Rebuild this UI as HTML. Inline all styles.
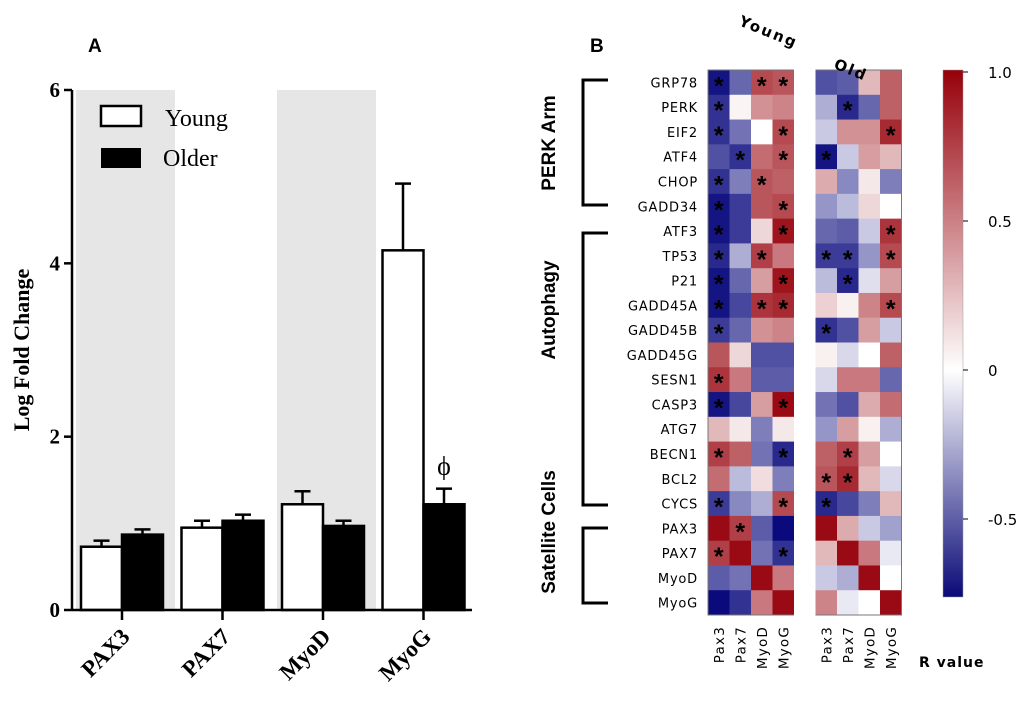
<!DOCTYPE html>
<html><head><meta charset="utf-8"><style>
body{margin:0;background:#fff;width:1020px;height:701px;overflow:hidden}
svg{display:block}
</style></head><body>
<svg id="s" width="1020" height="701">
<defs>
<linearGradient id="cb" x1="0" y1="0" x2="0" y2="1">
<stop offset="0" stop-color="rgb(150,0,10)"/>
<stop offset="0.57" stop-color="#fff"/>
<stop offset="1" stop-color="rgb(10,10,120)"/>
</linearGradient>
</defs>
<text x="88" y="52" font-family="Liberation Sans" font-weight="bold" font-size="19">A</text>
<text x="590" y="52" font-family="Liberation Sans" font-weight="bold" font-size="19">B</text>
<g id="barg"></g>
<g id="heat"></g>
</svg>
<script>
// ---- Bar chart data ----
const genes = ["PAX3","PAX7","MyoD","MyoG"];
const youngVals = [0.73,0.95,1.22,4.15];
const olderVals = [0.87,1.03,0.97,1.22];
const youngErr = [0.07,0.08,0.15,0.77];
const olderErr = [0.06,0.07,0.06,0.18];
const yTicks = [0,2,4,6];

// ---- Heatmap data ----
const rowLabels = ["GRP78","PERK","EIF2","ATF4","CHOP","GADD34","ATF3","TP53","P21","GADD45A","GADD45B","GADD45G","SESN1","CASP3","ATG7","BECN1","BCL2","CYCS","PAX3","PAX7","MyoD","MyoG"];
const colLabels = ["Pax3","Pax7","MyoD","MyoG","Pax3","Pax7","MyoD","MyoG"];
const rValues = [
[-0.95,-0.55,0.65,0.6,-0.65,-0.6,0.2,0.55],
[-0.8,0.02,0.35,0.4,-0.25,-0.85,-0.55,0.55],
[-0.8,-0.5,0,0.65,-0.15,0.35,0.35,0.8],
[-0.65,-0.8,0.5,0.6,-0.95,-0.15,0.3,0.2],
[-0.8,-0.45,0.6,0.55,0.25,-0.4,0.05,-0.45],
[-0.95,-0.75,0.6,0.65,-0.35,-0.2,0.1,0],
[-0.95,-0.75,0.1,0.9,-0.55,-0.6,-0.15,0.75],
[-0.85,-0.25,0.7,0.45,-0.75,-0.75,-0.35,0.65],
[-0.95,-0.55,0.3,0.9,-0.2,-0.85,-0.08,0.3],
[-0.95,-0.7,0.75,0.8,0.12,0.03,0.4,0.65],
[-0.75,-0.55,0.35,0.4,-0.8,-0.65,0.3,-0.15],
[0.6,0.1,-0.65,-0.65,0.03,-0.1,0,0.55],
[0.75,0.45,-0.6,-0.6,-0.1,0.45,0.45,-0.55],
[-0.95,-0.7,0.3,0.95,-0.5,-0.65,0.25,0.5],
[0.2,0.05,-0.45,0.05,-0.35,0.3,0.03,-0.25],
[0.7,0.55,-0.5,-0.85,0.55,0.7,0.3,0],
[0.5,-0.2,0.08,-0.45,0.6,0.8,0.2,-0.1],
[-0.75,-0.4,-0.25,0.65,-0.85,-0.7,-0.45,0.2],
[0.95,0.7,-0.6,-1,0.95,0.25,-0.15,-0.3],
[0.7,0.95,-0.5,-0.8,0.2,0.95,0.45,-0.05],
[-0.6,-0.5,0.95,0.45,-0.15,-0.25,0.95,0],
[-1,-0.8,0.45,0.95,0.4,-0.05,0,0.95]];
const sig = [
[1,0,1,1,0,0,0,0],[1,0,0,0,0,1,0,0],[1,0,0,1,0,0,0,1],[0,1,0,1,1,0,0,0],
[1,0,1,0,0,0,0,0],[1,0,0,1,0,0,0,0],[1,0,0,1,0,0,0,1],[1,0,1,0,1,1,0,1],
[1,0,0,1,0,1,0,0],[1,0,1,1,0,0,0,1],[1,0,0,0,1,0,0,0],[0,0,0,0,0,0,0,0],
[1,0,0,0,0,0,0,0],[1,0,0,1,0,0,0,0],[0,0,0,0,0,0,0,0],[1,0,0,1,0,1,0,0],
[0,0,0,0,1,1,0,0],[1,0,0,1,1,0,0,0],[0,1,0,0,0,0,0,0],[1,0,0,1,0,0,0,0],
[0,0,0,0,0,0,0,0],[0,0,0,0,0,0,0,0]];
const cbTicks = [1.0,0.5,0,-0.5];
const cbTickLabels = ["1.0","0.5","0","-0.5"];

const NS="http://www.w3.org/2000/svg";
function mk(p,tag,a,txt){const e=document.createElementNS(NS,tag);for(const k in a)e.setAttribute(k,a[k]);if(txt!==undefined)e.textContent=txt;p.appendChild(e);return e;}

// ---- Bar chart ----
const bg=document.getElementById('barg');
const X0=72,Y0=610,YT=90,ymax=6;
const yS=v=>Y0-(v/ymax)*(Y0-YT);
const gc=i=>122+i*100.5;
const bw=41;
[0,2].forEach(i=>{const r=mk(bg,'rect',{x:gc(i)-46,y:YT,width:99,height:Y0-YT,fill:'#e6e6e6'});
});
genes.forEach((g,i)=>{
 const c=gc(i);
 const ex=c-bw/2, ox=c+bw/2;
 let e=mk(bg,'line',{x1:ex,x2:ex,y1:yS(youngVals[i]),y2:yS(youngVals[i]+youngErr[i]),stroke:'#000','stroke-width':2.5});
 
 mk(bg,'line',{x1:ex-8,x2:ex+8,y1:yS(youngVals[i]+youngErr[i]),y2:yS(youngVals[i]+youngErr[i]),stroke:'#000','stroke-width':2.5});
 e=mk(bg,'line',{x1:ox,x2:ox,y1:yS(olderVals[i]),y2:yS(olderVals[i]+olderErr[i]),stroke:'#000','stroke-width':2.5});
 
 mk(bg,'line',{x1:ox-8,x2:ox+8,y1:yS(olderVals[i]+olderErr[i]),y2:yS(olderVals[i]+olderErr[i]),stroke:'#000','stroke-width':2.5});
 let r=mk(bg,'rect',{x:c-bw,y:yS(youngVals[i]),width:bw,height:Y0-yS(youngVals[i]),fill:'#fff',stroke:'#000','stroke-width':2.5});
 
 r=mk(bg,'rect',{x:c,y:yS(olderVals[i]),width:bw,height:Y0-yS(olderVals[i]),fill:'#000',stroke:'#000','stroke-width':2.5});
 
 mk(bg,'line',{x1:c,x2:c,y1:Y0,y2:Y0+10,stroke:'#000','stroke-width':2.5});
 const t=mk(bg,'text',{x:0,y:0,transform:`translate(${c+9},${Y0+28}) rotate(-45)`,'text-anchor':'end','font-family':'Liberation Serif','font-weight':'bold','font-size':23},g);
 
});
const phi=mk(bg,'text',{x:gc(3)+bw/2,y:yS(olderVals[3]+olderErr[3])-14,'text-anchor':'middle','font-family':'Liberation Serif','font-size':26},'ϕ');

mk(bg,'line',{x1:X0,x2:X0,y1:YT,y2:Y0,stroke:'#000','stroke-width':2.5});
mk(bg,'line',{x1:X0,x2:472,y1:Y0,y2:Y0,stroke:'#000','stroke-width':2.5});
yTicks.forEach(v=>{
 mk(bg,'line',{x1:X0-8,x2:X0,y1:yS(v),y2:yS(v),stroke:'#000','stroke-width':2.5});
 const t=mk(bg,'text',{x:X0-12,y:yS(v)+7,'text-anchor':'end','font-family':'Liberation Serif','font-weight':'bold','font-size':21},v);
 
});
let yl=mk(bg,'text',{transform:'translate(29,350) rotate(-90)','text-anchor':'middle','font-family':'Liberation Serif','font-weight':'bold','font-size':22},'Log Fold Change');

let lg=mk(bg,'rect',{x:101,y:106,width:40,height:20,fill:'#fff',stroke:'#000','stroke-width':2.5});

lg=mk(bg,'rect',{x:101,y:148,width:40,height:20,fill:'#000'});

lg=mk(bg,'text',{x:165,y:126,'font-family':'Liberation Serif','font-size':24},'Young');

lg=mk(bg,'text',{x:163,y:166,'font-family':'Liberation Serif','font-size':24},'Older');


// ---- Heatmap ----
const hg=document.getElementById('heat');
const HX=708,HY=70,CW=21.5,RH=(615-70)/22,GAP=21.5;
const colX=j=>HX+j*CW+(j>=4?GAP:0);
const rowY=i=>HY+i*RH;
function color(v){
 const b=[10,10,125],r=[150,0,10];
 const t=Math.pow(Math.min(1,Math.abs(v)),0.8);
 const c=v>=0?r:b;
 return `rgb(${Math.round(255+(c[0]-255)*t)},${Math.round(255+(c[1]-255)*t)},${Math.round(255+(c[2]-255)*t)})`;
}
rowLabels.forEach((lab,i)=>{
 const t=mk(hg,'text',{x:698,y:rowY(i)+RH/2+5,'text-anchor':'end','font-family':'DejaVu Sans','font-size':13,'letter-spacing':'0.8'},lab);
 
 rValues[i].forEach((v,j)=>{
  const r=mk(hg,'rect',{x:colX(j),y:rowY(i),width:CW+0.5,height:RH+0.5,fill:color(v)});
  
  if(sig[i][j]){
   const s=mk(hg,'text',{x:colX(j)+CW/2,y:rowY(i)+RH/2+12,'text-anchor':'middle','font-family':'Liberation Sans','font-weight':'bold','font-size':25},'*');
   
  }
 });
});
mk(hg,'rect',{x:HX,y:HY,width:colX(7)+CW-HX,height:RH*22,fill:'none',stroke:'#777','stroke-width':1});
mk(hg,'rect',{x:colX(3)+CW,y:HY-1,width:GAP,height:RH*22+2,fill:'#fff'});
colLabels.forEach((c,j)=>{
 const t=mk(hg,'text',{transform:`translate(${colX(j)+CW/2+5},626) rotate(-90)`,'text-anchor':'end','font-family':'DejaVu Sans','font-size':13.5,'letter-spacing':'1.2'},c);
 
});
let gt=mk(hg,'text',{transform:'translate(738,25) rotate(22)','font-family':'DejaVu Sans','font-weight':'bold','font-size':15,'letter-spacing':'2'},'Young');

gt=mk(hg,'text',{transform:'translate(833,68) rotate(22)','font-family':'DejaVu Sans','font-weight':'bold','font-size':15,'letter-spacing':'2'},'Old');

// brackets
[[80,205,'PERK Arm',143],[233,505,'Autophagy',310],[528,603,'Satellite Cells',532]].forEach(b=>{
 const p=mk(hg,'path',{d:`M608 ${b[0]} H583 V${b[1]} H608`,fill:'none',stroke:'#000','stroke-width':3});
 
 const t=mk(hg,'text',{transform:`translate(555,${b[3]}) rotate(-90)`,'text-anchor':'middle','font-family':'Liberation Sans','font-weight':'bold','font-size':19},b[2]);
 
});
// colorbar
const CBT=70,CBB=597;
const cbY=v=>72+(1-v)*298;
let cb=mk(hg,'rect',{x:943,y:CBT,width:20,height:CBB-CBT,fill:'url(#cb)',stroke:'#999','stroke-width':0.5});

cbTicks.forEach((v,k)=>{
 mk(hg,'line',{x1:963,x2:968,y1:cbY(v),y2:cbY(v),stroke:'#000'});
 const t=mk(hg,'text',{x:988,y:cbY(v)+6,'font-family':'DejaVu Sans','font-size':15},cbTickLabels[k]);
 
});
let rv=mk(hg,'text',{x:919,y:667,'font-family':'DejaVu Sans','font-weight':'bold','font-size':14,'letter-spacing':'1'},'R value');

</script>
</body></html>
